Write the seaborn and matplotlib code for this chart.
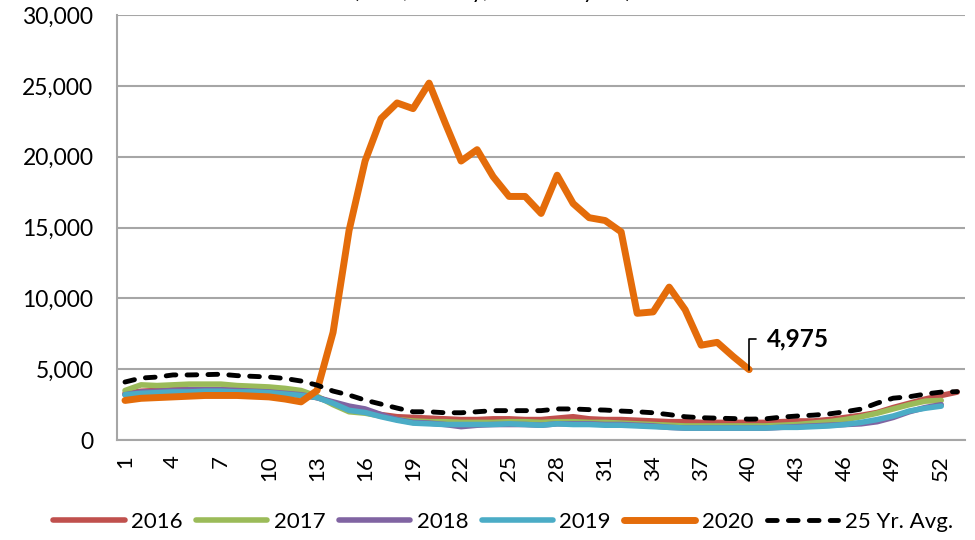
import numpy as np
import pandas as pd
import matplotlib
matplotlib.use('Agg')
import matplotlib.pyplot as plt
import seaborn as sns
from matplotlib.ticker import FuncFormatter, FixedLocator

# -------------------- data (weekly, NSA) --------------------
weeks = np.arange(1, 54)

y2016 = [3300, 3450, 3500, 3550, 3550, 3550, 3550, 3500, 3450, 3400, 3300, 3200, 3000,
         2650, 2250, 2050, 1800, 1650, 1600, 1550, 1500, 1450, 1450, 1500, 1500, 1450,
         1450, 1550, 1650, 1500, 1450, 1450, 1400, 1350, 1300, 1300, 1250, 1250, 1250,
         1250, 1250, 1300, 1350, 1350, 1450, 1600, 1750, 1950, 2300, 2600, 2900, 3150, 3390]
y2017 = [3500, 3900, 3850, 3900, 3950, 3950, 3950, 3850, 3800, 3750, 3650, 3500, 3100,
         2500, 2000, 1900, 1700, 1450, 1350, 1300, 1300, 1250, 1250, 1250, 1300, 1300,
         1250, 1300, 1300, 1250, 1250, 1200, 1150, 1100, 1050, 1000, 1000, 1000, 1000,
         1000, 1000, 1050, 1100, 1200, 1300, 1450, 1650, 1900, 2200, 2500, 2750, 2800]
y2018 = [3200, 3400, 3450, 3500, 3550, 3550, 3550, 3500, 3450, 3400, 3300, 3200, 3000,
         2700, 2400, 2200, 1800, 1450, 1250, 1200, 1100, 950, 1050, 1100, 1100, 1100,
         1050, 1150, 1150, 1150, 1100, 1100, 1050, 1000, 900, 850, 850, 850, 850,
         850, 850, 900, 950, 1000, 1050, 1100, 1150, 1300, 1600, 2000, 2300, 2500]
y2019 = [3200, 3300, 3350, 3400, 3400, 3450, 3450, 3400, 3400, 3350, 3250, 3150, 3000,
         2600, 2100, 1950, 1650, 1400, 1200, 1150, 1100, 1100, 1100, 1100, 1150, 1100,
         1050, 1150, 1100, 1100, 1050, 1050, 1000, 950, 900, 850, 850, 850, 850,
         850, 850, 900, 900, 950, 1000, 1100, 1250, 1450, 1700, 2050, 2250, 2400]
y2020 = [2800, 2950, 3000, 3050, 3100, 3150, 3150, 3150, 3100, 3050, 2900, 2700, 3500,
         7600, 14800, 19700, 22700, 23800, 23400, 25200, 22400, 19700, 20500, 18600,
         17200, 17200, 16000, 18700, 16700, 15700, 15500, 14700, 8950, 9050, 10800,
         9200, 6700, 6900, 5900, 4975]
avg25 = [4100, 4380, 4450, 4600, 4600, 4620, 4650, 4550, 4500, 4450, 4350, 4170, 3880,
         3460, 3180, 2820, 2540, 2260, 2000, 2000, 1930, 1930, 2000, 2080, 2080, 2080,
         2080, 2200, 2200, 2150, 2120, 2050, 2000, 1930, 1800, 1650, 1580, 1550, 1520,
         1480, 1500, 1620, 1700, 1760, 1850, 2000, 2190, 2610, 2960, 3060, 3250, 3390, 3420]

series_names = ['2016', '2017', '2018', '2019', '2020', '25 Yr. Avg.']
series_vals = [y2016, y2017, y2018, y2019, y2020, avg25]
colors = ['#C0504D', '#9BBB59', '#8064A2', '#4BACC6', '#E46C0A', '#000000']
widths = [4.0, 4.0, 4.0, 4.0, 5.0, 3.5]

subtitle = '(NSA, weekly, calendar year)'

# -------------------- style --------------------
sns.set_theme(style='white')
plt.rcParams['font.family'] = ['Lato', 'DejaVu Sans']
plt.rcParams['text.color'] = 'black'
plt.rcParams['xtick.color'] = 'black'
plt.rcParams['ytick.color'] = 'black'

fig = plt.figure(figsize=(9.75, 5.4), dpi=100)
ax = fig.add_axes([0.12, 0.185, 0.87, 0.787])

grid_c = '#A6A6A6'
for name, vals, c, lw in zip(series_names, series_vals, colors, widths):
    xs = weeks[:len(vals)]
    sns.lineplot(x=xs, y=vals, ax=ax, color=c, lw=lw, label=name)
    ln = ax.lines[-1]
    if name == '25 Yr. Avg.':
        ln.set_dashes((2.0, 2.3))
        ln.set_dash_capstyle('round')
    else:
        ln.set_solid_capstyle('round')

# label on last 2020 point
last_wk = len(y2020)
ax.annotate(f'{y2020[-1]:,}', xy=(last_wk, y2020[-1]), xytext=(13, 22),
            textcoords='offset points', ha='left', va='center',
            fontsize=17.5, fontweight='bold', color='black',
            arrowprops=dict(arrowstyle='-', color='black', lw=1.2,
                            connectionstyle='angle,angleA=0,angleB=90,rad=0',
                            relpos=(0, 0.5), shrinkA=6, shrinkB=0))

# axes
ax.set_xlim(0.5, 53.5)
ax.set_ylim(0, 30000)
ax.set_yticks(range(0, 30001, 5000))
ax.yaxis.set_major_formatter(FuncFormatter(lambda v, p: f'{v:,.0f}'))
ax.set_xticks(weeks[::3])
ax.set_xticklabels([str(w) for w in weeks[::3]], rotation=90)
ax.xaxis.set_minor_locator(FixedLocator(np.arange(0.5, 54, 1)))
ax.tick_params(axis='x', which='major', length=0, pad=11, labelsize=16, colors='black')
ax.tick_params(axis='x', which='minor', length=8, width=1.2, color=grid_c, direction='out')
ax.tick_params(axis='y', which='major', length=5, width=1.2, color=grid_c,
               direction='out', labelsize=16.5, pad=12, labelcolor='black')
ax.grid(axis='y', color=grid_c, lw=1.5)
ax.set_axisbelow(True)
for s in ['top', 'right']:
    ax.spines[s].set_visible(False)
for s in ['left', 'bottom']:
    ax.spines[s].set_color(grid_c)
    ax.spines[s].set_linewidth(1.5)
ax.set_xlabel('')
ax.set_ylabel('')

leg = ax.legend(loc='lower center', bbox_to_anchor=(0.516, -0.022), bbox_transform=fig.transFigure,
                ncol=6, frameon=False, fontsize=16, handlelength=3.2, handletextpad=0.3,
                columnspacing=0.6)

# subtitle cut off at top of picture, as in the source
fig.text(0.505, 1.003, subtitle, ha='center', va='baseline', fontsize=16, color='black')

fig.savefig('out.png', dpi=100)
